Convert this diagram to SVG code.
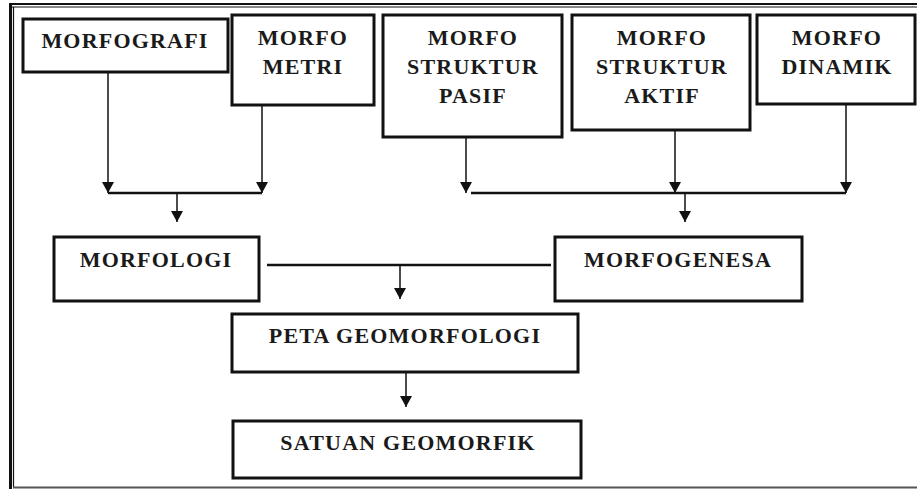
<svg xmlns="http://www.w3.org/2000/svg" width="917" height="489" viewBox="0 0 917 489">
<style>
.box{fill:#fff;stroke:#111;stroke-width:3}
.t{font-family:"Liberation Serif","Times New Roman",serif;font-weight:bold;font-size:22px;letter-spacing:1.2px;fill:#1a1a1a;text-anchor:middle}
.ln{stroke:#111;stroke-width:1.5;fill:none}
.bar{stroke:#111;stroke-width:2.5;fill:none}
</style>
<defs>
<marker id="a" markerUnits="userSpaceOnUse" markerWidth="12" markerHeight="12" viewBox="0 0 12 12" refX="6" refY="11" orient="0">
<path d="M0,0 L12,0 L6,11 Z" fill="#111"/>
</marker>
</defs>
<rect width="917" height="489" fill="#fff"/>
<g id="frame">
<line x1="9" y1="4" x2="917" y2="4" stroke="#111" stroke-width="2"/>
<line x1="12" y1="7" x2="917" y2="7" stroke="#111" stroke-width="1.2"/>
<line x1="10.5" y1="3" x2="10.5" y2="489" stroke="#111" stroke-width="3"/>
<line x1="13.5" y1="7" x2="13.5" y2="487" stroke="#111" stroke-width="1.2"/>
<line x1="13" y1="487.5" x2="917" y2="487.5" stroke="#555" stroke-width="2"/>
</g>
<g id="connectors">
<line class="ln" x1="108" y1="72" x2="108" y2="193" marker-end="url(#a)"/>
<line class="ln" x1="262" y1="105" x2="262" y2="193" marker-end="url(#a)"/>
<line class="bar" x1="108" y1="193" x2="262" y2="193"/>
<line class="ln" x1="177" y1="193" x2="177" y2="222" marker-end="url(#a)"/>
<line class="ln" x1="466" y1="105" x2="466" y2="193" marker-end="url(#a)"/>
<line class="ln" x1="675" y1="105" x2="675" y2="193" marker-end="url(#a)"/>
<line class="ln" x1="846" y1="104" x2="846" y2="193" marker-end="url(#a)"/>
<line class="bar" x1="471" y1="193" x2="846" y2="193"/>
<line class="ln" x1="685" y1="193" x2="685" y2="222" marker-end="url(#a)"/>
<line class="bar" x1="267" y1="265" x2="551" y2="265"/>
<line class="ln" x1="400" y1="265" x2="400" y2="299" marker-end="url(#a)"/>
<line class="ln" x1="406" y1="372" x2="406" y2="407" marker-end="url(#a)"/>
</g>
<g id="morfografi"><rect class="box" x="23" y="19" width="205" height="53"/><text class="t" x="125" y="48">MORFOGRAFI</text></g>
<g id="morfometri"><rect class="box" x="232" y="15" width="142" height="90"/><text class="t" x="303" y="45">MORFO</text><text class="t" x="303" y="74">METRI</text></g>
<g id="morfostrukturpasif"><rect class="box" x="383" y="15" width="179" height="122"/><text class="t" x="473" y="45">MORFO</text><text class="t" x="473" y="74">STRUKTUR</text><text class="t" x="473" y="103">PASIF</text></g>
<g id="morfostrukturaktif"><rect class="box" x="572" y="15" width="178" height="115"/><text class="t" x="662" y="45">MORFO</text><text class="t" x="662" y="74">STRUKTUR</text><text class="t" x="662" y="103">AKTIF</text></g>
<g id="morfodinamik"><rect class="box" x="757" y="15" width="158" height="89"/><text class="t" x="837" y="45">MORFO</text><text class="t" x="837" y="74">DINAMIK</text></g>
<g id="morfologi"><rect class="box" x="54" y="237" width="205" height="64"/><text class="t" x="156" y="267">MORFOLOGI</text></g>
<g id="morfogenesa"><rect class="box" x="555" y="237" width="247" height="64"/><text class="t" x="678" y="267">MORFOGENESA</text></g>
<g id="petageomorfologi"><rect class="box" x="232" y="314" width="346" height="58"/><text class="t" x="405" y="343">PETA GEOMORFOLOGI</text></g>
<g id="satuangeomorfik"><rect class="box" x="233" y="421" width="348" height="57"/><text class="t" x="408" y="450">SATUAN GEOMORFIK</text></g>
</svg>
